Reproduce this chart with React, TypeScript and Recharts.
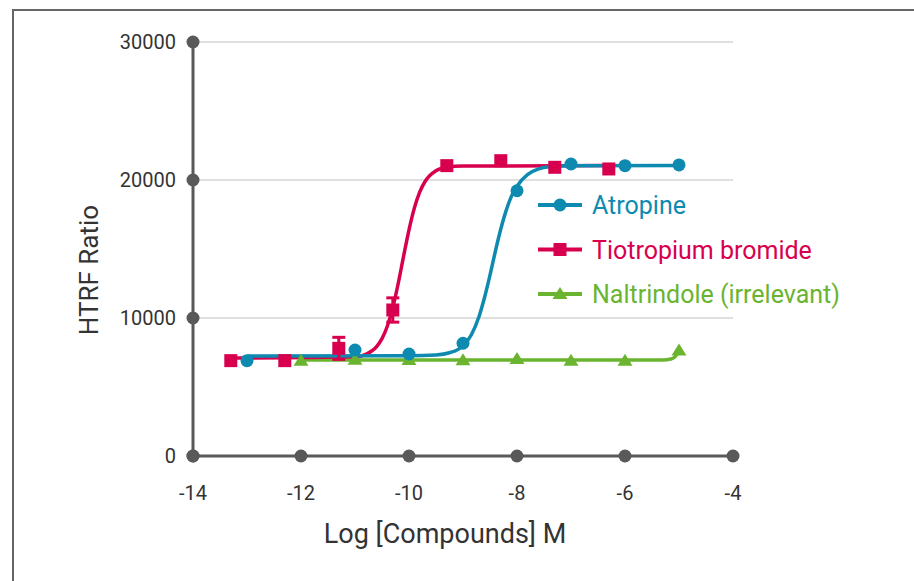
import React from 'react';
import {
  ComposedChart,
  Line,
  Scatter,
  ErrorBar,
  XAxis,
  YAxis,
  CartesianGrid,
  ReferenceDot,
  Legend,
  Label,
} from 'recharts';

const BLUE = '#0e8ab0';
const RED = '#d8004e';
const GREEN = '#6ab42f';
const AXIS = '#595959';
const TEXT = '#333333';
const FONT = 'Roboto, "Liberation Sans", sans-serif';

// measured points
const atropineX = [-13, -11, -10, -9, -8, -7, -6, -5];
const atropineY = [6910, 7680, 7390, 8170, 19220, 21160, 21040, 21090];

const tiotropiumX = [-13.3, -12.3, -11.3, -10.3, -9.3, -8.3, -7.3, -6.3];
const tiotropiumY = [6910, 6910, 7800, 10580, 21040, 21400, 20920, 20800];
const tiotropiumErr = [0, 0, 800, 880, 0, 0, 0, 0];

const naltrindoleX = [-12, -11, -10, -9, -8, -7, -6, -5];
const naltrindoleY = [6900, 6980, 6960, 6930, 7020, 6900, 6900, 7650];

// fitted dose-response curves
const atropineFitX = [-13, -10, -9.5, -9.25, -9, -8.85, -8.7, -8.6, -8.5, -8.4, -8.3, -8.2, -8.1, -8, -7.8, -7.6, -7.4, -7, -5];
const atropineFitY = [7250, 7260, 7320, 7480, 7980, 8750, 10150, 11500, 13100, 14850, 16450, 17800, 18850, 19550, 20400, 20800, 20960, 21030, 21050];

const tiotropiumFitX = [-13.3, -11, -10.8, -10.6, -10.5, -10.4, -10.3, -10.2, -10.1, -10, -9.9, -9.8, -9.7, -9.5, -9.3, -9, -6.3];
const tiotropiumFitY = [7100, 7190, 7370, 7930, 8510, 9420, 10750, 12500, 14480, 16390, 17980, 19140, 19910, 20670, 20920, 21010, 21050];

const naltrindoleFitX = [-12, -6, -5.3, -5.15, -5.07, -5];
const naltrindoleFitY = [6960, 6960, 6965, 7030, 7200, 7650];

const xTicks = [-14, -12, -10, -8, -6, -4];
const yTicks = [0, 10000, 20000, 30000];

const toRows = (xs: number[], ys: number[], errs?: number[]) =>
  xs.map((x, i) => ({ x, y: ys[i], err: errs ? errs[i] : 0 }));

const atropinePoints = toRows(atropineX, atropineY);
const tiotropiumPoints = toRows(tiotropiumX, tiotropiumY, tiotropiumErr);
const naltrindolePoints = toRows(naltrindoleX, naltrindoleY);
const atropineFit = toRows(atropineFitX, atropineFitY);
const tiotropiumFit = toRows(tiotropiumFitX, tiotropiumFitY);
const naltrindoleFit = toRows(naltrindoleFitX, naltrindoleFitY);

type MarkerKind = 'circle' | 'square' | 'triangle';

const drawMarker = (kind: MarkerKind, cx: number, cy: number, color: string) => {
  if (kind === 'circle') return <circle cx={cx} cy={cy} r={6.5} fill={color} />;
  if (kind === 'square') return <rect x={cx - 6.5} y={cy - 6.5} width={13} height={13} fill={color} />;
  return <polygon points={`${cx},${cy - 7} ${cx - 7.5},${cy + 5} ${cx + 7.5},${cy + 5}`} fill={color} />;
};

const markerShape = (kind: MarkerKind, color: string) => (props: any) => (
  <g>{drawMarker(kind, props.cx, props.cy, color)}</g>
);

const legendItems: { name: string; color: string; marker: MarkerKind }[] = [
  { name: 'Atropine', color: BLUE, marker: 'circle' },
  { name: 'Tiotropium bromide', color: RED, marker: 'square' },
  { name: 'Naltrindole (irrelevant)', color: GREEN, marker: 'triangle' },
];

const renderLegend = () => (
  <svg width={370} height={130}>
    {legendItems.map((item, i) => {
      const cy = 20 + i * 44.5;
      return (
        <g key={item.name}>
          <line x1={2} x2={46} y1={cy} y2={cy} stroke={item.color} strokeWidth={4} />
          {drawMarker(item.marker, 24, cy, item.color)}
          <text x={56} y={cy} dy="0.36em" fill={item.color} fontSize={25} fontFamily={FONT}>
            {item.name}
          </text>
        </g>
      );
    })}
  </svg>
);

const tickStyle = { fill: TEXT, fontSize: 20, fontFamily: FONT };

const App = () => {
  return (
    <div style={{ position: 'absolute', left: 0, top: 0, width: 914, height: 581, background: '#fff' }}>
      <div
        style={{
          position: 'absolute',
          left: 12,
          top: 9,
          width: 901,
          height: 580,
          borderTop: '2px solid #666',
          borderLeft: '2px solid #666',
        }}
      />
      <ComposedChart
        width={914}
        height={581}
        margin={{ top: 42, right: 181, bottom: 85, left: 133 }}
      >
        <CartesianGrid vertical={false} stroke="#d4d4d4" strokeWidth={1.5} />
        <XAxis
          type="number"
          dataKey="x"
          domain={[-14, -4]}
          ticks={xTicks}
          height={40}
          axisLine={{ stroke: AXIS, strokeWidth: 3 }}
          tickLine={false}
          tickSize={0}
          tickMargin={30}
          tick={tickStyle}
        >
          <Label
            content={() => (
              <text x={445} y={533} dy="0.36em" textAnchor="middle" fill={TEXT} fontSize={27} fontFamily={FONT}>
                Log [Compounds] M
              </text>
            )}
          />
        </XAxis>
        <YAxis
          type="number"
          domain={[0, 30000]}
          ticks={yTicks}
          width={60}
          axisLine={{ stroke: AXIS, strokeWidth: 3 }}
          tickLine={false}
          tickSize={0}
          tickMargin={17}
          tick={tickStyle}
        >
          <Label
            content={() => (
              <text
                x={89}
                y={270}
                dy="0.36em"
                textAnchor="middle"
                fill={TEXT}
                fontSize={26}
                fontFamily={FONT}
                transform="rotate(-90 89 270)"
              >
                HTRF Ratio
              </text>
            )}
          />
        </YAxis>

        {xTicks.map((t) => (
          <ReferenceDot key={`xd${t}`} x={t} y={0} r={6.5} fill={AXIS} stroke="none" />
        ))}
        {yTicks.map((t) => (
          <ReferenceDot key={`yd${t}`} x={-14} y={t} r={6.5} fill={AXIS} stroke="none" />
        ))}

        <Line data={naltrindoleFit} dataKey="y" type="monotone" stroke={GREEN} strokeWidth={3.5} dot={false} isAnimationActive={false} />
        <Line data={tiotropiumFit} dataKey="y" type="monotone" stroke={RED} strokeWidth={3.5} dot={false} isAnimationActive={false} />
        <Line data={atropineFit} dataKey="y" type="monotone" stroke={BLUE} strokeWidth={3.5} dot={false} isAnimationActive={false} />

        <Scatter data={naltrindolePoints} dataKey="y" shape={markerShape('triangle', GREEN)} isAnimationActive={false} />
        <Scatter data={atropinePoints} dataKey="y" shape={markerShape('circle', BLUE)} isAnimationActive={false} />
        <Scatter data={tiotropiumPoints} dataKey="y" shape={markerShape('square', RED)} isAnimationActive={false}>
          <ErrorBar dataKey="err" direction="y" width={6.5} stroke={RED} strokeWidth={3} />
        </Scatter>

        <Legend
          layout="vertical"
          align="center"
          verticalAlign="middle"
          content={renderLegend}
          wrapperStyle={{ left: 536, top: 185, width: 370, height: 130 }}
        />
      </ComposedChart>
    </div>
  );
};

export default App;
